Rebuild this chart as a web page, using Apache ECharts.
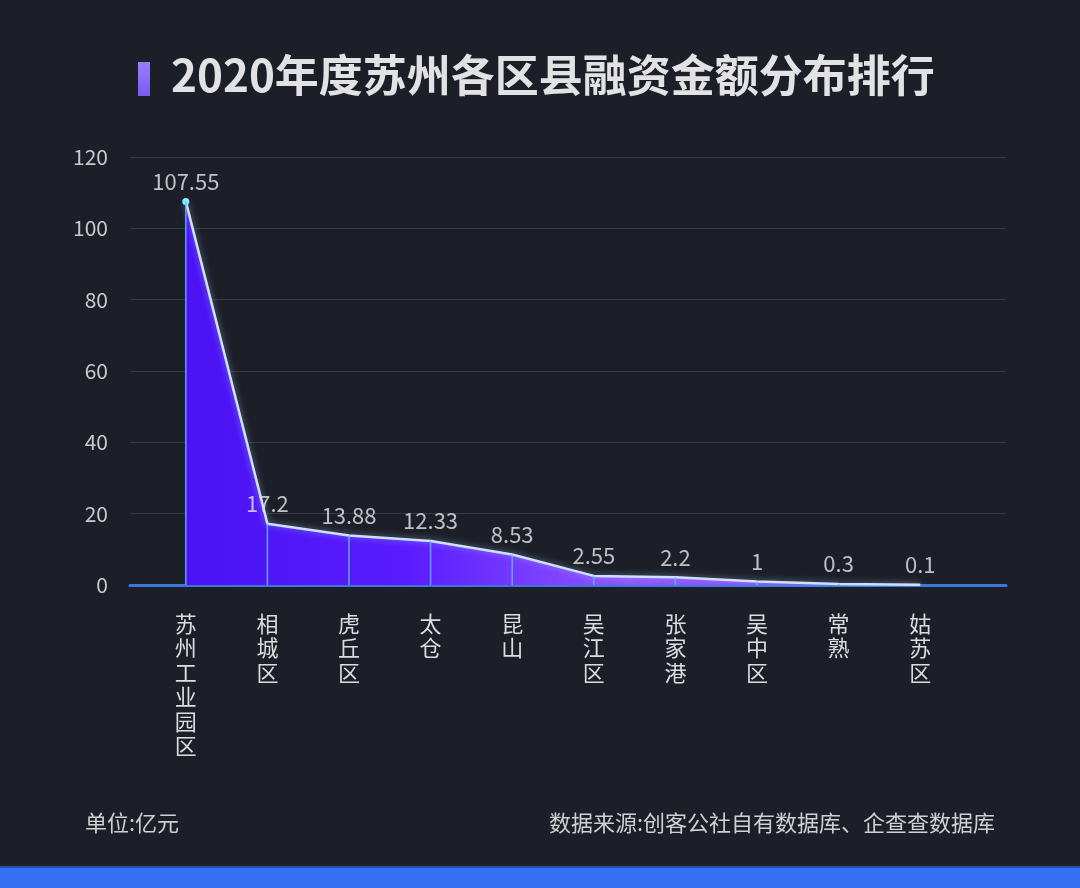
<!DOCTYPE html>
<html><head><meta charset="utf-8">
<script src="https://cdn.jsdelivr.net/npm/echarts@6/dist/echarts.min.js"></script>
<style>html,body{margin:0;padding:0;background:#1d1f28;}#c{width:1080px;height:888px;}</style>
</head><body><div id="c"></div>
<script>
const categories = ['苏州工业园区','相城区','虎丘区','太仓','昆山','吴江区','张家港','吴中区','常熟','姑苏区'];
const values = [107.55, 17.2, 13.88, 12.33, 8.53, 2.55, 2.2, 1, 0.3, 0.1];
const yTicks = [0, 20, 40, 60, 80, 100, 120];

const chart = echarts.init(document.getElementById('c'));
const FONT = '"Noto Sans CJK SC", "Noto Sans", sans-serif';
const yMin = yTicks[0], yMax = yTicks[yTicks.length-1], yStep = yTicks[1]-yTicks[0];

chart.setOption({
  backgroundColor: '#1d1f28',
  animation: false,
  graphic: [
    { type: 'rect', left: 138, top: 62, shape: { width: 12, height: 34 },
      style: { fill: new echarts.graphic.LinearGradient(0,0,0,1,[{offset:0,color:'#9a7cff'},{offset:1,color:'#7a5cf0'}]) } },
    { type: 'text', left: 171, top: 53, style: { text: '2020年度苏州各区县融资金额分布排行', fill: '#e2e2e4', font: 'bold 44px ' + FONT } },
    { type: 'text', left: 85, top: 812, style: { text: '单位:亿元', fill: '#cfcfd4', font: '22px ' + FONT } },
    { type: 'text', right: 85, top: 812, style: { text: '数据来源:创客公社自有数据库、企查查数据库', fill: '#cfcfd4', font: '22px ' + FONT, textAlign: 'right' } },
    { type: 'rect', left: 0, top: 868, shape: { width: 1080, height: 20 }, style: { fill: '#3371f2' } },
    { type: 'rect', left: 0, top: 866, shape: { width: 1080, height: 2 }, style: { fill: '#2a4fa8' } }
  ],
  grid: [
    { left: 145, right: 119, top: 157, bottom: 303 },
    { left: 130, right: 74, top: 157, bottom: 303 }
  ],
  xAxis: [
    { type: 'category', gridIndex: 0, data: categories, boundaryGap: true,
      axisLine: { show: false }, axisTick: { show: false },
      axisLabel: { interval: 0, color: '#dcdce0', fontSize: 22, lineHeight: 24.5, fontFamily: FONT, margin: 26,
        verticalAlign: 'top',
        formatter: v => v.split('').join('\n') } },
    { type: 'value', gridIndex: 1, min: 0, max: 1, axisLabel: { show: false }, axisTick: { show: false }, splitLine: { show: false },
      axisLine: { show: true, lineStyle: { color: '#3a78e0', width: 3 } } }
  ],
  yAxis: [
    { type: 'value', gridIndex: 0, min: yMin, max: yMax, interval: yStep, show: false, splitLine: { show: false } },
    { type: 'value', gridIndex: 1, min: yMin, max: yMax, interval: yStep,
      axisLine: { show: false }, axisTick: { show: false },
      axisLabel: { color: '#c9c9ce', fontSize: 21, fontFamily: FONT, margin: 22 },
      splitLine: { lineStyle: { color: '#363842', width: 1 } } }
  ],
  series: [
    { type: 'line', xAxisIndex: 0, yAxisIndex: 0, z: 3,
      data: values.map((v, i) => i === 0 ? { value: v, symbol: 'circle', symbolSize: 7, itemStyle: { color: '#7ff5ff' } } : { value: v, symbol: 'none' }),
      showSymbol: true,
      lineStyle: { color: '#cfe0ff', width: 2.5, shadowColor: 'rgba(160,200,255,0.6)', shadowBlur: 6 },
      areaStyle: { opacity: 1, color: new echarts.graphic.LinearGradient(0,0,1,0,[
        {offset:0, color:'#4a12f2'}, {offset:0.3, color:'#5a1cff'}, {offset:0.6, color:'#9055ff'}, {offset:1, color:'#8a38ee'}]) }
    },
    { type: 'bar', xAxisIndex: 0, yAxisIndex: 0, z: 4, barWidth: 1.5, data: values,
      itemStyle: { color: '#62b8ff', opacity: 0.85 }, silent: true,
      label: { show: true, position: 'top', distance: 9, color: '#dcdce0', fontSize: 22, fontFamily: FONT },
      labelLayout: { hideOverlap: false }
    }
  ]
});
</script></body></html>
